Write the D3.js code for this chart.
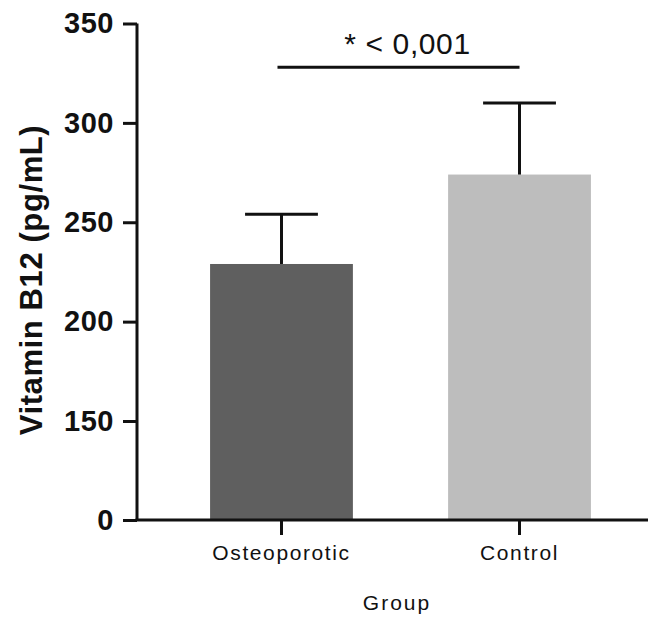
<!DOCTYPE html>
<meta charset="utf-8">
<style>
body { margin: 0; background: #fff; }
svg { display: block; }
.axis path, .axis line { stroke: #111; stroke-width: 3px; }
.ytick text { font: bold 29px "Liberation Sans", Arial, sans-serif; fill: #111; letter-spacing: 0.5px; }
.xtick text { font: 21px "Liberation Sans", Arial, sans-serif; fill: #111; letter-spacing: 1.6px; }
</style>
<body>
<div id="chart"></div>
<script src="https://d3js.org/d3.v7.min.js"></script>
<script>
var groups = ["Osteoporotic", "Control"];
var means = [229, 274];
var errTops = [254, 310];
var barColors = ["#5f5f5f", "#bdbdbd"];
var yTicks = [0, 150, 200, 250, 300, 350];
var sigValue = 328;
var sigLabel = "* < 0,001";

var width = 648, height = 619;
var svg = d3.select("#chart").append("svg").attr("width", width).attr("height", height);

// broken axis: 0 sits one step below 150
var y = d3.scaleLinear().domain([0, 150, 350]).range([520, 421, 23.5]);
var x = d3.scaleBand().domain(groups).range([137, 664]).paddingInner(0.4).paddingOuter(0.307);

svg.selectAll(".bar")
    .data(groups)
  .enter().append("rect")
    .attr("class", "bar")
    .attr("x", function(d) { return x(d); })
    .attr("y", function(d, i) { return y(means[i]); })
    .attr("width", x.bandwidth())
    .attr("height", function(d, i) { return y(0) - y(means[i]); })
    .attr("fill", function(d, i) { return barColors[i]; });

// error bars (upper only)
var capHalf = x.bandwidth() * 0.255;
groups.forEach(function(d, i) {
  var cx = x(d) + x.bandwidth() / 2;
  svg.append("line").attr("x1", cx).attr("x2", cx)
    .attr("y1", y(means[i])).attr("y2", y(errTops[i]))
    .attr("stroke", "#111").attr("stroke-width", 3);
  svg.append("line").attr("x1", cx - capHalf).attr("x2", cx + capHalf)
    .attr("y1", y(errTops[i])).attr("y2", y(errTops[i]))
    .attr("stroke", "#111").attr("stroke-width", 3);
});

var yAxis = svg.append("g").attr("class", "axis ytick")
    .attr("transform", "translate(137,0)")
    .call(d3.axisLeft(y).tickValues(yTicks).tickSize(14).tickSizeOuter(0).tickPadding(9));
yAxis.select(".domain").attr("d", "M0," + y(350) + "V" + y(0));

var xAxis = svg.append("g").attr("class", "axis xtick")
    .attr("transform", "translate(0,520)")
    .call(d3.axisBottom(x).tickSize(15).tickSizeOuter(0).tickPadding(10));
xAxis.select(".domain").attr("d", "M135.5,0H" + width);

// significance bracket
var c0 = x(groups[0]) + x.bandwidth() / 2 - 4, c1 = x(groups[1]) + x.bandwidth() / 2;
svg.append("line").attr("x1", c0).attr("x2", c1)
  .attr("y1", y(sigValue)).attr("y2", y(sigValue))
  .attr("stroke", "#111").attr("stroke-width", 3);
svg.append("text")
  .attr("x", (c0 + c1) / 2 + 9).attr("y", y(sigValue) - 13)
  .attr("text-anchor", "middle")
  .style("font", "30px 'Liberation Sans', Arial, sans-serif")
  .style("letter-spacing", "0.6px")
  .attr("fill", "#111")
  .text(sigLabel);

svg.append("text")
  .attr("transform", "translate(42,280) rotate(-90)")
  .attr("text-anchor", "middle")
  .style("font", "bold 31px 'Liberation Sans', Arial, sans-serif")
  .style("letter-spacing", "0.6px")
  .attr("fill", "#111")
  .text("Vitamin B12 (pg/mL)");

svg.append("text")
  .attr("x", 397).attr("y", 610)
  .attr("text-anchor", "middle")
  .style("font", "21px 'Liberation Sans', Arial, sans-serif")
  .style("letter-spacing", "2px")
  .attr("fill", "#111")
  .text("Group");
</script>
</body>
